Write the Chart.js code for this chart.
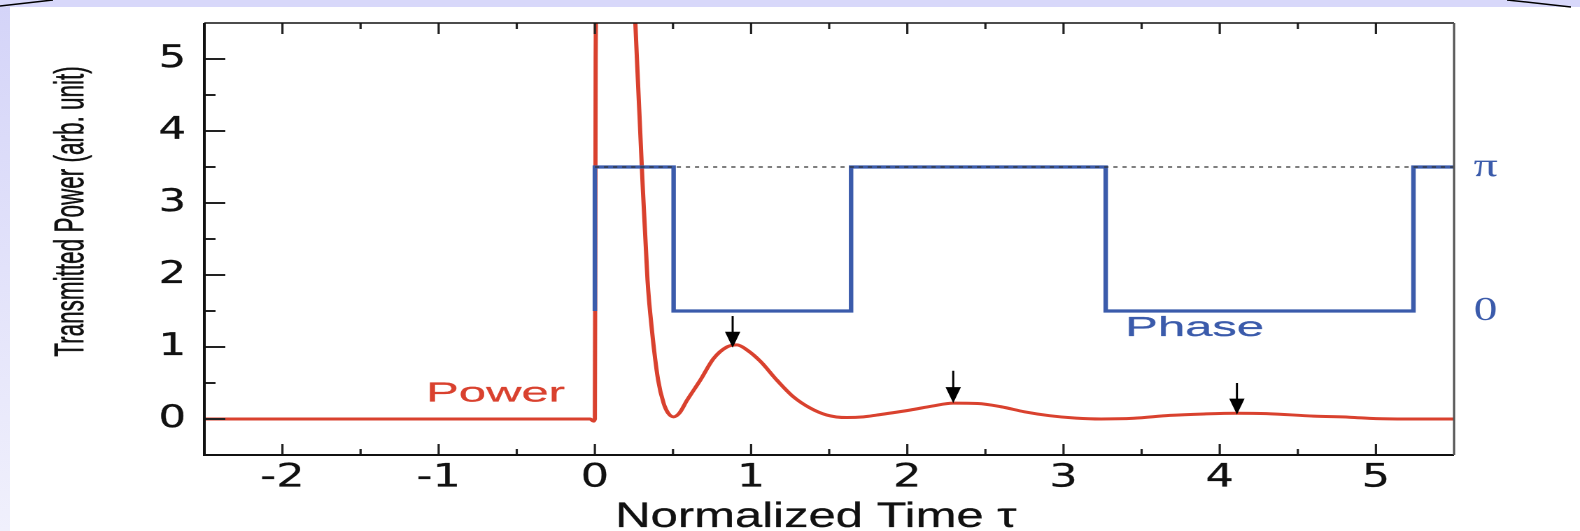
<!DOCTYPE html>
<html>
<head>
<meta charset="utf-8">
<script src="https://cdn.jsdelivr.net/npm/chart.js@4"></script>
<style>
  html, body { margin: 0; padding: 0; background: #fff; overflow: hidden; }
  #bandTop { position: absolute; left: 0; top: 0; width: 1580px; height: 7px; background: #d8d8fa; }
  #bandLeft { position: absolute; left: 0; top: 7px; width: 10px; height: 524px; background: linear-gradient(#d4d4f8, #f0f0fc); }
  #corners { position: absolute; left: 0; top: 0; }
  #myChart { position: absolute; left: 0; top: 0; width: 1580px; height: 531px; }
</style>
</head>
<body>
<div id="bandTop"></div>
<div id="bandLeft"></div>
<svg id="corners" width="1580" height="20">
  <line x1="0" y1="6" x2="53" y2="0" stroke="#000" stroke-width="1.5"/>
  <line x1="1507" y1="0" x2="1571" y2="7" stroke="#000" stroke-width="1.5"/>
</svg>
<!-- the original figure is stretched sideways, so the canvas is drawn narrow and scaled up by css -->
<canvas id="myChart" width="1129" height="531" style="width:1580px;height:531px"></canvas>
<script>
const xMajorTicks = [-2, -1, 0, 1, 2, 3, 4, 5];
const xMinorTicks = [-1.5, -0.5, 0.5, 1.5, 2.5, 3.5, 4.5];
const yMajorTicks = [0, 1, 2, 3, 4, 5];
const yMinorTicks = [0.5, 1.5, 2.5, 3.5, 4.5];
const phaseTicks = [1.5, 3.5];
const phaseTickLabels = ['0', 'π'];

// transmitted power
const powerX = [-2.5, -0.03, -0.01, 0, 0.005, 0.02, 0.05, 0.1, 0.17, 0.22, 0.259, 0.301, 0.337, 0.365, 0.405, 0.44, 0.47, 0.504,
  0.54, 0.59, 0.675, 0.76, 0.845, 0.91, 0.973, 1.06, 1.165, 1.27, 1.38, 1.485, 1.613, 1.72, 1.805, 2.02, 2.16, 2.295,
  2.45, 2.6, 2.75, 2.91, 3.08, 3.24, 3.45, 3.68, 3.9, 4.11, 4.3, 4.6, 4.83, 5.0, 5.2, 5.5];
const powerY = [0, 0, -0.03, 0, 5, 11, 14.5, 15, 11.5, 7.4, 5.5, 3.48, 1.93, 1.24, 0.54, 0.22, 0.08, 0.03,
  0.08, 0.26, 0.54, 0.84, 1.0, 1.03, 0.96, 0.8, 0.54, 0.31, 0.15, 0.055, 0.02, 0.03, 0.055, 0.125, 0.18, 0.22,
  0.215, 0.17, 0.1, 0.046, 0.012, 0.0, 0.01, 0.05, 0.07, 0.08, 0.075, 0.04, 0.025, 0.005, 0.0, 0.0];

// phase steps between 0 (drawn at 1.5) and pi (drawn at 3.5)
const phaseX = [0, 0, 0.504, 0.504, 1.64, 1.64, 3.27, 3.27, 5.24, 5.24, 5.5];
const phaseY = [1.5, 3.5, 3.5, 1.5, 1.5, 3.5, 3.5, 1.5, 1.5, 3.5, 3.5];
const piLevelX = [0, 5.5];
const piLevelY = [3.5, 3.5];

const arrowX = [0.882, 2.294, 4.11];
const arrowTop = [1.43, 0.67, 0.5];
const arrowTip = [0.99, 0.22, 0.06];

const textLabels = ['Power', 'Phase'];
const textX = [-1.08, 3.395];
const textY = [0.24, 1.15];

const RED = '#d9412e';
const BLUE = '#3b5bab';
const SANS = '"Liberation Sans", Arial, Helvetica, sans-serif';
const WIDE = '"DejaVu Sans", Verdana, sans-serif';
const SERIF = '"Liberation Serif", "DejaVu Serif", serif';

const toPoints = (xs, ys) => xs.map((v, i) => ({x: v, y: ys[i]}));

function heavyText(ctx, t, x, y, color, width) {
  ctx.fillStyle = color;
  ctx.strokeStyle = color;
  ctx.lineWidth = width;
  ctx.lineJoin = 'round';
  ctx.fillText(t, x, y);
  ctx.strokeText(t, x, y);
}

const decor = {
  id: 'decor',
  afterDatasetsDraw(chart) {
    const {ctx, chartArea: a, scales: {x, y}} = chart;
    ctx.save();

    // inward ticks
    ctx.strokeStyle = '#222';
    ctx.lineWidth = 1.6;
    ctx.beginPath();
    xMajorTicks.forEach(v => {
      const px = x.getPixelForValue(v);
      ctx.moveTo(px, a.bottom); ctx.lineTo(px, a.bottom - 11);
      ctx.moveTo(px, a.top); ctx.lineTo(px, a.top + 11);
    });
    xMinorTicks.forEach(v => {
      const px = x.getPixelForValue(v);
      ctx.moveTo(px, a.bottom); ctx.lineTo(px, a.bottom - 6);
      ctx.moveTo(px, a.top); ctx.lineTo(px, a.top + 6);
    });
    ctx.stroke();
    ctx.lineWidth = 2;
    ctx.beginPath();
    yMajorTicks.forEach(v => {
      const py = y.getPixelForValue(v);
      ctx.moveTo(a.left, py); ctx.lineTo(a.left + 15, py);
    });
    yMinorTicks.forEach(v => {
      const py = y.getPixelForValue(v);
      ctx.moveTo(a.left, py); ctx.lineTo(a.left + 8, py);
    });
    ctx.stroke();

    // frame
    ctx.strokeStyle = '#111';
    ctx.lineWidth = 2;
    ctx.beginPath();
    ctx.moveTo(a.left, a.top); ctx.lineTo(a.left, a.bottom); ctx.lineTo(a.right, a.bottom);
    ctx.stroke();
    ctx.lineWidth = 1.4;
    ctx.beginPath();
    ctx.moveTo(a.left, a.top); ctx.lineTo(a.right, a.top);
    ctx.stroke();
    ctx.strokeStyle = '#555';
    ctx.lineWidth = 1.6;
    ctx.beginPath();
    ctx.moveTo(a.right, a.top); ctx.lineTo(a.right, a.bottom);
    ctx.stroke();

    // arrows
    ctx.strokeStyle = '#000';
    ctx.fillStyle = '#000';
    arrowX.forEach((v, i) => {
      const px = x.getPixelForValue(v);
      const pTop = y.getPixelForValue(arrowTop[i]);
      const pTip = y.getPixelForValue(arrowTip[i]);
      ctx.lineWidth = 1.5;
      ctx.beginPath();
      ctx.moveTo(px, pTop); ctx.lineTo(px, pTip - 10);
      ctx.stroke();
      ctx.beginPath();
      ctx.moveTo(px - 5.5, pTip - 16); ctx.lineTo(px + 5.5, pTip - 16); ctx.lineTo(px, pTip);
      ctx.closePath();
      ctx.fill();
    });

    // curve labels (a bit wider than the rest of the text)
    ctx.font = '28px ' + SANS;
    ctx.textAlign = 'left';
    ctx.textBaseline = 'alphabetic';
    textLabels.forEach((t, i) => {
      ctx.save();
      ctx.translate(x.getPixelForValue(textX[i]), y.getPixelForValue(textY[i]));
      ctx.scale(1.25, 1);
      heavyText(ctx, t, 0, 0, i === 0 ? RED : BLUE, 0.25);
      ctx.restore();
    });

    // axis titles
    ctx.font = '35px ' + SANS;
    ctx.textAlign = 'center';
    heavyText(ctx, 'Normalized Time τ', 583, 527, '#111', 0.3);
    ctx.translate(51.5, 211.5);
    ctx.rotate(-Math.PI / 2);
    ctx.scale(1, 1.3);
    ctx.font = '22.5px ' + SANS;
    ctx.textBaseline = 'middle';
    heavyText(ctx, 'Transmitted Power (arb. unit)', 0, 0, '#111', 0.3);

    ctx.restore();
  }
};

const ctx = document.getElementById('myChart').getContext('2d');
const myChart = new Chart(ctx, {
  type: 'line',
  data: {
    datasets: [
      {
        data: toPoints(piLevelX, piLevelY),
        borderColor: '#333',
        borderWidth: 1.2,
        borderDash: [3, 3.5],
        pointRadius: 0,
        tension: 0
      },
      {
        data: toPoints(phaseX, phaseY),
        borderColor: BLUE,
        borderWidth: 3.2,
        pointRadius: 0,
        tension: 0
      },
      {
        data: toPoints(powerX, powerY),
        borderColor: RED,
        borderWidth: 3,
        pointRadius: 0,
        cubicInterpolationMode: 'monotone'
      }
    ]
  },
  options: {
    responsive: false,
    animation: false,
    devicePixelRatio: 2,
    layout: { padding: { top: 23, left: 0, right: 0, bottom: 0 } },
    plugins: { legend: { display: false }, tooltip: { enabled: false } },
    scales: {
      x: {
        type: 'linear',
        min: -2.5,
        max: 5.5,
        grid: { display: false, drawTicks: false },
        border: { display: false },
        afterBuildTicks: s => { s.ticks = xMajorTicks.map(v => ({value: v})); },
        afterFit: s => { s.height = 76; s.paddingLeft = 0; s.paddingRight = 0; },
        ticks: {
          padding: 4,
          color: '#111',
          textStrokeColor: '#111',
          textStrokeWidth: 0.2,
          font: { size: 32, family: WIDE },
          maxRotation: 0,
          callback: v => String(v)
        }
      },
      y: {
        min: -0.5,
        max: 5.5,
        grid: { display: false, drawTicks: false },
        border: { display: false },
        afterBuildTicks: s => { s.ticks = yMajorTicks.map(v => ({value: v})); },
        afterFit: s => { s.width = 146; s.paddingTop = 0; s.paddingBottom = 0; },
        ticks: {
          padding: 13,
          color: '#111',
          textStrokeColor: '#111',
          textStrokeWidth: 0.3,
          font: { size: 31, family: WIDE },
          callback: v => String(v)
        }
      },
      y2: {
        position: 'right',
        min: -0.5,
        max: 5.5,
        grid: { display: false, drawTicks: false },
        border: { display: false },
        afterBuildTicks: s => { s.ticks = phaseTicks.map(v => ({value: v})); },
        afterFit: s => { s.width = 90; s.paddingTop = 0; s.paddingBottom = 0; },
        ticks: {
          padding: 14,
          color: BLUE,
          font: { size: 34, family: SERIF },
          callback: v => phaseTickLabels[phaseTicks.indexOf(v)]
        }
      }
    }
  },
  plugins: [decor]
});
</script>
</body>
</html>
